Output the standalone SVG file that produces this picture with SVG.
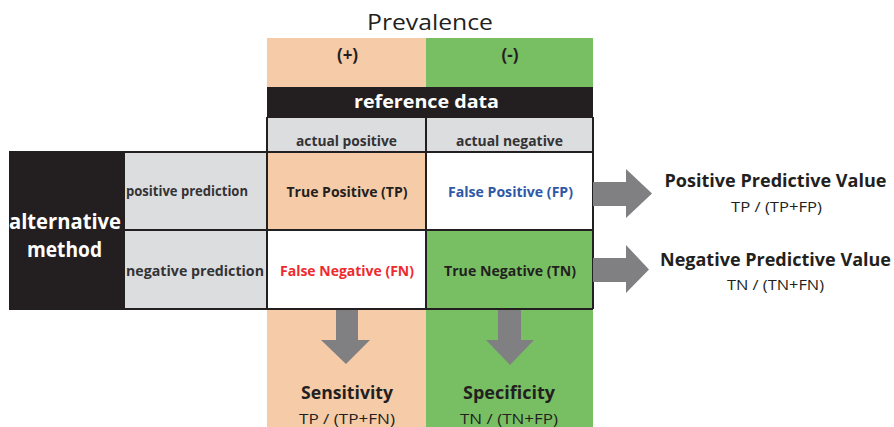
<svg xmlns="http://www.w3.org/2000/svg" width="894" height="427" viewBox="0 0 894 427">
<style>
text{font-family:"Open Sans","Liberation Sans",sans-serif;fill:#231f20;text-anchor:middle}
.b{font-weight:700}
.hd{font-size:13.5px;font-weight:700;fill:#333335}
.cell{font-size:14.5px;font-weight:700}
.wt{fill:#ffffff;font-weight:700}
.big{font-size:18px;font-weight:700}
.frm{font-size:15px}
.ln{stroke:#231f20;stroke-width:2;fill:none}
.arr{fill:#808083}
</style>
<rect width="894" height="427" fill="#ffffff"/>
<g id="prevalence">
<text x="430" y="30" font-size="22.5" textLength="126" lengthAdjust="spacingAndGlyphs">Prevalence</text>
</g>
<g id="col-positive">
<rect x="267" y="38" width="159" height="389" fill="#f6cba8"/>
<text class="b" x="347.5" y="60.5" font-size="17">(+)</text>
</g>
<g id="col-negative">
<rect x="426" y="38" width="167" height="389" fill="#78bf64"/>
<text class="b" x="510" y="60.5" font-size="17">(-)</text>
</g>
<g id="reference-data">
<rect x="267" y="87" width="326" height="31" fill="#231f20"/>
<text class="wt" x="426.5" y="108" font-size="18.5" textLength="145" lengthAdjust="spacingAndGlyphs">reference data</text>
</g>
<g id="actual-positive">
<rect x="267" y="118" width="159" height="34" fill="#dcdddf"/>
<text class="hd" x="346.5" y="145.5" textLength="101" lengthAdjust="spacingAndGlyphs">actual positive</text>
</g>
<g id="actual-negative">
<rect x="426" y="118" width="167" height="34" fill="#dcdddf"/>
<text class="hd" x="509.5" y="145.5" textLength="107" lengthAdjust="spacingAndGlyphs">actual negative</text>
</g>
<g id="alternative-method">
<rect x="9" y="152" width="115" height="157" fill="#231f20"/>
<text class="wt" x="65" y="229" font-size="20.5" textLength="112" lengthAdjust="spacingAndGlyphs">alternative</text>
<text class="wt" x="64.5" y="257" font-size="20.5" textLength="75" lengthAdjust="spacingAndGlyphs">method</text>
</g>
<g id="positive-prediction">
<rect x="124" y="152" width="143" height="78" fill="#dcdddf"/>
<text class="hd" x="126" y="195.5" style="text-anchor:start" textLength="122" lengthAdjust="spacingAndGlyphs">positive prediction</text>
</g>
<g id="negative-prediction">
<rect x="124" y="230" width="143" height="79" fill="#dcdddf"/>
<text class="hd" x="126" y="275.5" style="text-anchor:start" textLength="138" lengthAdjust="spacingAndGlyphs">negative prediction</text>
</g>
<g id="tp">
<rect x="267" y="152" width="159" height="78" fill="#f6cba8"/>
<text class="cell" x="347" y="197" textLength="121" lengthAdjust="spacingAndGlyphs">True Positive (TP)</text>
</g>
<g id="fp">
<rect x="426" y="152" width="167" height="78" fill="#ffffff"/>
<text class="cell" x="510.5" y="197" style="fill:#2e58a6" textLength="125" lengthAdjust="spacingAndGlyphs">False Positive (FP)</text>
</g>
<g id="fn">
<rect x="267" y="230" width="159" height="79" fill="#ffffff"/>
<text class="cell" x="347" y="276" style="fill:#ee2a2e" textLength="134" lengthAdjust="spacingAndGlyphs">False Negative (FN)</text>
</g>
<g id="tn">
<rect x="426" y="230" width="167" height="79" fill="#78bf64"/>
<text class="cell" x="510" y="276" textLength="132" lengthAdjust="spacingAndGlyphs">True Negative (TN)</text>
</g>
<g id="grid">
<path class="ln" d="M9 152H593M124 230H593M9 309H593M267 117V309M426 117V309M593 117V309M124 152V309"/>
</g>
<g id="connectors">
<path class="arr" d="M593 182H626V169L652 193.5L626 218V206H593Z"/>
<path class="arr" d="M593 258H626V245L649 269.5L626 293V282H593Z"/>
<path class="arr" d="M336 310H358V340H370L346 364L321 340H336Z"/>
<path class="arr" d="M498 310H521V340H534L510 365L486 340H498Z"/>
</g>
<g id="ppv">
<text class="big" x="775.5" y="187" textLength="222" lengthAdjust="spacingAndGlyphs">Positive Predictive Value</text>
<text class="frm" x="776.5" y="212" textLength="91" lengthAdjust="spacingAndGlyphs">TP / (TP+FP)</text>
</g>
<g id="npv">
<text class="big" x="775.5" y="266" textLength="231" lengthAdjust="spacingAndGlyphs">Negative Predictive Value</text>
<text class="frm" x="775.5" y="290" textLength="97" lengthAdjust="spacingAndGlyphs">TN / (TN+FN)</text>
</g>
<g id="sensitivity">
<text class="big" x="347" y="399" textLength="92" lengthAdjust="spacingAndGlyphs">Sensitivity</text>
<text class="frm" x="347" y="424" textLength="96" lengthAdjust="spacingAndGlyphs">TP / (TP+FN)</text>
</g>
<g id="specificity">
<text class="big" x="509" y="399" textLength="92" lengthAdjust="spacingAndGlyphs">Specificity</text>
<text class="frm" x="509" y="424" textLength="98" lengthAdjust="spacingAndGlyphs">TN / (TN+FP)</text>
</g>
</svg>
